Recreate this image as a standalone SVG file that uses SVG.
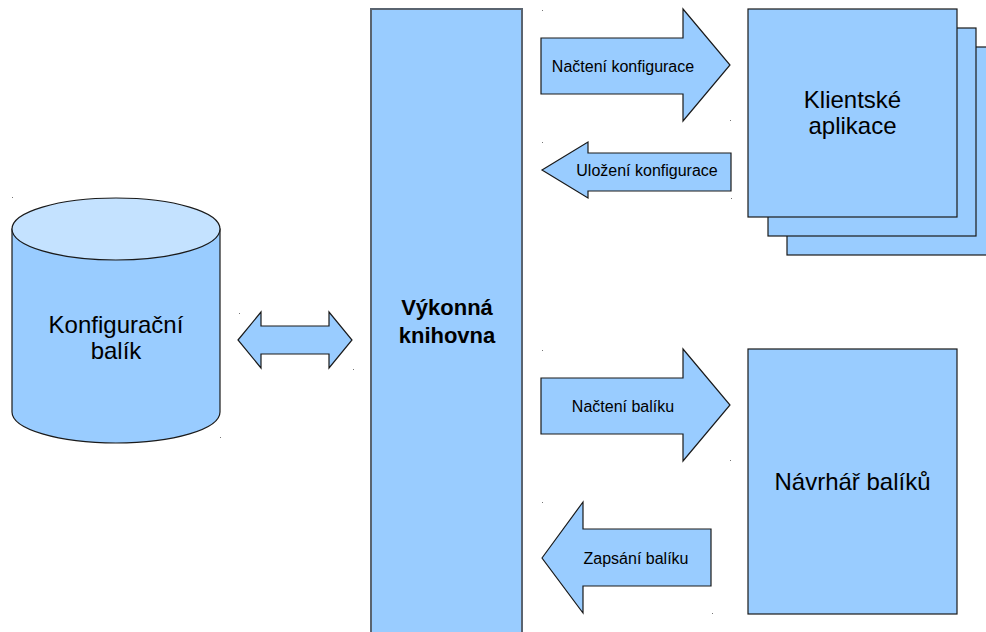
<svg xmlns="http://www.w3.org/2000/svg" width="986" height="632" viewBox="0 0 986 632">
  <style>
    .shape { fill: #99ccff; stroke: #1a1a1a; stroke-width: 1.2; }
    .core { fill: #99ccff; stroke: #5a6470; stroke-width: 2; }
    .lbl { font-family: "Liberation Sans", Arial, sans-serif; fill: #000; text-anchor: middle; }
    .big { font-size: 24px; }
    .small { font-size: 16px; }
    .bold { font-size: 22px; font-weight: bold; }
    .dot { fill: #777; }
  </style>
  <rect width="986" height="632" fill="#ffffff"/>

  <!-- corner marks -->
  <g id="marks">
    <rect class="dot" x="12" y="197" width="1" height="1"/>
    <rect class="dot" x="220" y="437" width="1" height="1"/>
    <rect class="dot" x="239" y="313" width="1" height="1"/>
    <rect class="dot" x="353" y="369" width="1" height="1"/>
    <rect class="dot" x="542" y="10" width="1" height="1"/>
    <rect class="dot" x="730" y="120" width="1" height="1"/>
    <rect class="dot" x="542" y="142" width="1" height="1"/>
    <rect class="dot" x="731" y="198" width="1" height="1"/>
    <rect class="dot" x="542" y="350" width="1" height="1"/>
    <rect class="dot" x="730" y="460" width="1" height="1"/>
    <rect class="dot" x="542" y="502" width="1" height="1"/>
    <rect class="dot" x="712" y="613" width="1" height="1"/>
  </g>

  <!-- package store -->
  <g id="konfiguracni-balik">
    <path class="shape" d="M12,229 L12,412 A104,31 0 0 0 220,412 L220,229 Z"/>
    <ellipse cx="116" cy="229" rx="104" ry="31" fill="#c4e2ff" stroke="#1a1a1a" stroke-width="1.2"/>
    <text class="lbl big" x="116" y="333">Konfigurační</text>
    <text class="lbl big" x="116" y="359">balík</text>
  </g>

  <!-- runtime library -->
  <g id="vykonna-knihovna">
    <rect class="core" x="371" y="9" width="151" height="630"/>
    <text class="lbl bold" x="447" y="315">Výkonná</text>
    <text class="lbl bold" x="447" y="343">knihovna</text>
  </g>

  <!-- client applications (stacked) -->
  <g id="klientske-aplikace">
    <rect class="shape" x="787" y="47" width="205" height="208"/>
    <rect class="shape" x="768" y="28" width="208" height="208"/>
    <rect class="shape" x="748" y="9" width="209" height="208"/>
    <text class="lbl big" x="852.5" y="108">Klientské</text>
    <text class="lbl big" x="852.5" y="134">aplikace</text>
  </g>

  <!-- package designer -->
  <g id="navrhar-baliku">
    <rect class="shape" x="748" y="349" width="209" height="265"/>
    <text class="lbl big" x="852.5" y="490">Návrhář balíků</text>
  </g>

  <!-- block arrows -->
  <g id="connectors">
    <path class="shape" d="M238,340 L261,312 L261,326 L329,326 L329,312 L352,340 L329,368 L329,354 L261,354 L261,368 Z"/>

    <path class="shape" d="M541,38 L683,38 L683,9 L730,65 L683,121 L683,94 L541,94 Z"/>
    <text class="lbl small" x="623" y="72">Načtení konfigurace</text>

    <path class="shape" d="M542,170 L588,142 L588,153 L731,153 L731,191 L588,191 L588,198 Z"/>
    <text class="lbl small" x="647" y="176">Uložení konfigurace</text>

    <path class="shape" d="M541,378 L683,378 L683,349 L730,405 L683,461 L683,434 L541,434 Z"/>
    <text class="lbl small" x="623" y="412">Načtení balíku</text>

    <path class="shape" d="M542,558 L583,502 L583,529 L711,529 L711,586 L583,586 L583,613 Z"/>
    <text class="lbl small" x="636" y="564">Zapsání balíku</text>
  </g>
</svg>
